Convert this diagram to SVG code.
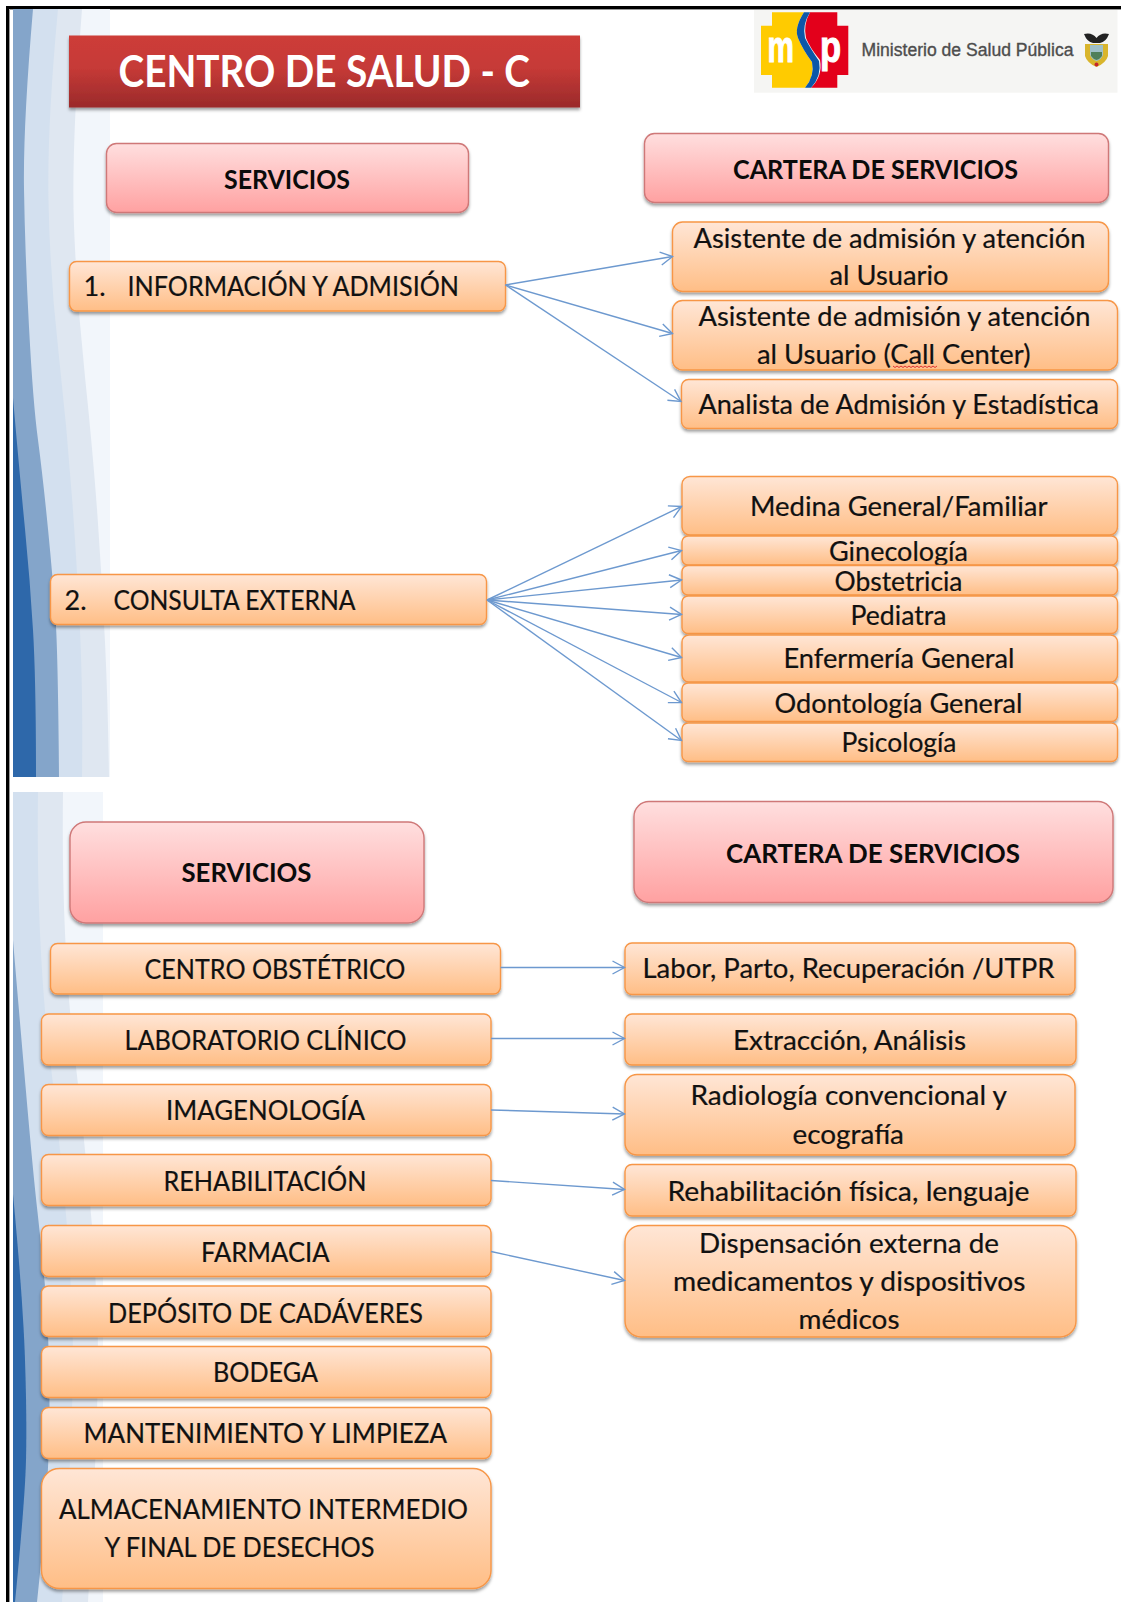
<svg xmlns="http://www.w3.org/2000/svg" width="1121" height="1602" viewBox="0 0 1121 1602">
<style>
.t{font-family:Lato,"Liberation Sans",sans-serif;font-size:27px;fill:#111;stroke:#111;stroke-width:.2}
.b{font-family:Lato,"Liberation Sans",sans-serif;font-weight:700;fill:#0b0b0b}
.o{fill:url(#og);stroke:#f79646;stroke-width:1.4;filter:url(#sh)}
.p{fill:url(#pg);stroke:#cf7878;stroke-width:1.4;filter:url(#sh)}
.c{fill:none;stroke:#6d99cf;stroke-width:1.4;marker-end:url(#ah)}
.d{fill:#2e68aa}.m{fill:#84a5ca}.l{fill:#d3e0ef}.e{fill:#dfe7f1}.v{fill:#f2f6fb}
</style>
<defs>
<linearGradient id="og" x1="0" y1="0" x2="0" y2="1"><stop offset="0" stop-color="#ffe6d6"/><stop offset="1" stop-color="#ffbe86"/></linearGradient>
<linearGradient id="pg" x1="0" y1="0" x2="0" y2="1"><stop offset="0" stop-color="#ffdfdf"/><stop offset="1" stop-color="#ffa1a1"/></linearGradient>
<linearGradient id="rg" x1="0" y1="0" x2="0" y2="1"><stop offset="0" stop-color="#cd3c39"/><stop offset=".45" stop-color="#c63a37"/><stop offset="1" stop-color="#9a2a2a"/></linearGradient>
<filter id="sh" x="-5%" y="-15%" width="110%" height="135%"><feDropShadow dx="0" dy="2.5" stdDeviation="1.6" flood-color="#000" flood-opacity=".38"/></filter>
<marker id="ah" markerUnits="userSpaceOnUse" markerWidth="18" markerHeight="18" refX="15" refY="9" orient="auto"><path d="M3,2.5 L15,9 L3,15.5" fill="none" stroke="#6d99cf" stroke-width="1.4"/></marker>
</defs>
<rect width="1121" height="1602" fill="#fff"/>
<g id="frame">
<path d="M7.5,1602 V7.5 H1121" fill="none" stroke="#000" stroke-width="3"/>
<path d="M9.5,1602 V9.5 H1121" fill="none" stroke="#999" stroke-width="1"/>
</g>
<g id="banda-1">
<rect class="v" x="13" y="9" width="97" height="768"/>
<path class="e" d="M13,9 L82,9 Q71,151 74,226 Q77,302 85,377 Q93,453 97.5,516 Q102,580 105,642 Q108,705 109,777 L13,777Z"/>
<path class="l" d="M13,9 L58,9 Q47,126 48.5,201 Q50,277 58.5,352 Q67,428 72.5,504 Q78,580 80.5,642 Q83,705 82,777 L13,777Z"/>
<path class="m" d="M13,9 L33,9 Q23,126 24,189 Q25,252 29,327 Q33,403 38,440 Q43,478 48,529 Q53,580 55.5,617 Q58,655 59,777 L13,777Z"/>
<path class="d" d="M13,398 Q20,478 25,529 Q30,580 33,630 Q36,680 36,777 L13,777Z"/>
</g>
<g id="banda-2">
<rect class="v" x="13" y="792" width="90" height="810"/>
<path class="e" d="M13,792 L63,792 Q62,867 65,933 Q68,1000 74,1050 Q80,1100 87.5,1175 Q95,1251 97.5,1325 Q100,1400 88,1602 L13,1602Z"/>
<path class="l" d="M13,792 L38,792 Q37,867 40,933 Q43,1000 49,1050 Q55,1100 62.5,1175 Q70,1251 72.5,1328 Q75,1406 62,1602 L13,1602Z"/>
<path class="m" d="M13,940 Q18,1000 25.5,1086 Q33,1173 37.5,1212 Q42,1252 45.5,1292 Q49,1333 49.5,1406 Q50,1480 37,1602 L13,1602Z"/>
<path class="d" d="M13,1194 Q23,1300 25,1360 Q27,1420 26,1460 Q25,1500 15,1602 L13,1602Z"/>
</g>
<g id="titulo">
<rect x="69" y="35.5" width="511" height="72" fill="url(#rg)" filter="url(#sh)"/>
<text class="b" x="118.5" y="86.5" font-size="44" style="fill:#fff" textLength="411.5" lengthAdjust="spacingAndGlyphs">CENTRO DE SALUD - C</text>
</g>
<g id="logo">
<rect x="754" y="10" width="363.5" height="82.7" fill="#f5f5f3"/>
<path d="M772,12.3 H804 Q794,28 798,38 Q803,50 812,62 Q815,76 805,87.7 H772 V75 H761 V25.7 H772Z" fill="#ffcb00"/>
<path d="M810,12.3 H837.3 V25.7 H848.3 V75 H837.3 V87.7 H811 Q823,76 820,60 Q810,48 806,38 Q803,25 810,12.3Z" fill="#e3001b"/>
<path d="M804,12.3 Q794,28 798,38 Q803,50 812,62 Q815,76 805,87.7 H811 Q822,76 819,61 Q810,48 805,38 Q802,25 810,12.3Z" fill="#0d57a8"/>
<g fill="#fff" stroke="#fff" stroke-width=".8" font-family="Liberation Sans,sans-serif" font-weight="700" font-size="32">
<text transform="translate(767.5,62) scale(.93,1.4)">m</text>
<text transform="translate(820,62) scale(1.08,1.4)">p</text>
</g>
<text x="861.5" y="55.5" font-family="Liberation Sans,sans-serif" font-size="17.5" fill="#4d4d4d" stroke="#4d4d4d" stroke-width=".35" textLength="212" lengthAdjust="spacingAndGlyphs">Ministerio de Salud Pública</text>
<path d="M1084,34 Q1092,32 1096.5,38 Q1101,32 1109,34 Q1106,42 1100,43 H1093 Q1087,42 1084,34Z" fill="#222"/>
<path d="M1085,44 H1108 V56 Q1106,63 1096.5,67 Q1087,63 1085,56Z" fill="#d9b52c"/>
<path d="M1090,45 H1103 V55 Q1101,60 1096.5,61 Q1092,60 1090,55Z" fill="#9fc0c8"/>
<path d="M1091,52 H1102 V56 Q1100,59 1096.5,60 Q1093,59 1091,56Z" fill="#4f7f5a"/>
<circle cx="1096.5" cy="64.5" r="2" fill="#c5262c"/>
</g>
<g id="servicios-1"><rect class="p" x="106.5" y="143.5" width="362" height="69" rx="10"/><text class="b" x="224" y="188.5" font-size="26" textLength="126" lengthAdjust="spacingAndGlyphs">SERVICIOS</text></g>
<g id="cartera-1"><rect class="p" x="644.5" y="133.5" width="464" height="69" rx="10"/><text class="b" x="733" y="179" font-size="26" textLength="285" lengthAdjust="spacingAndGlyphs">CARTERA DE SERVICIOS</text></g>
<g id="info"><rect class="o" x="69.5" y="261.5" width="436" height="49.5" rx="7"/><text class="t" x="83.5" y="296">1.</text><text class="t" x="127.5" y="296" textLength="331.5" lengthAdjust="spacingAndGlyphs">INFORMACIÓN Y ADMISIÓN</text></g>
<g id="asistente-1"><rect class="o" x="672.5" y="222" width="436" height="69.5" rx="10"/><text class="t" x="693.5" y="247.5" textLength="392" lengthAdjust="spacingAndGlyphs">Asistente de admisión y atención</text><text class="t" x="829.5" y="284.5" textLength="119" lengthAdjust="spacingAndGlyphs">al Usuario</text></g>
<g id="asistente-2"><rect class="o" x="672.5" y="300.5" width="445" height="69.5" rx="10"/><text class="t" x="698.5" y="326" textLength="392" lengthAdjust="spacingAndGlyphs">Asistente de admisión y atención</text><text class="t" x="757" y="363.5" textLength="273.5" lengthAdjust="spacingAndGlyphs">al Usuario (Call Center)</text><path d="M893,366 l2,1.5 2,-1.5 2,1.5 2,-1.5 2,1.5 2,-1.5 2,1.5 2,-1.5 2,1.5 2,-1.5 2,1.5 2,-1.5 2,1.5 2,-1.5 2,1.5 2,-1.5 2,1.5 2,-1.5 2,1.5 2,-1.5 2,1.5 2,-1.5" fill="none" stroke="#d33" stroke-width="1"/></g>
<g id="analista"><rect class="o" x="681.5" y="379.5" width="436" height="49" rx="7"/><text class="t" x="698.5" y="413.5" textLength="400.5" lengthAdjust="spacingAndGlyphs">Analista de Admisión y Estadística</text></g>
<g id="consulta"><rect class="o" x="50.5" y="574.5" width="436" height="50" rx="7"/><text class="t" x="64.5" y="610">2.</text><text class="t" x="113.5" y="610" textLength="242" lengthAdjust="spacingAndGlyphs">CONSULTA EXTERNA</text></g>
<g id="medina"><rect class="o" x="682" y="476.5" width="435.5" height="58.5" rx="8"/><text class="t" x="750" y="515.5" textLength="297.5" lengthAdjust="spacingAndGlyphs">Medina General/Familiar</text></g>
<g id="ginecologia"><rect class="o" x="682" y="536" width="435.5" height="29" rx="6"/><text class="t" x="829" y="561" textLength="139" lengthAdjust="spacingAndGlyphs">Ginecología</text></g>
<g id="obstetricia"><rect class="o" x="682" y="565.5" width="435.5" height="29.5" rx="6"/><text class="t" x="834.5" y="590.5" textLength="128" lengthAdjust="spacingAndGlyphs">Obstetricia</text></g>
<g id="pediatra"><rect class="o" x="682" y="596" width="435.5" height="37.5" rx="6"/><text class="t" x="850.5" y="624.5" textLength="96" lengthAdjust="spacingAndGlyphs">Pediatra</text></g>
<g id="enfermeria"><rect class="o" x="682" y="635" width="435.5" height="47" rx="7"/><text class="t" x="783.5" y="667.5" textLength="231" lengthAdjust="spacingAndGlyphs">Enfermería General</text></g>
<g id="odontologia"><rect class="o" x="682" y="683" width="435.5" height="38.5" rx="6"/><text class="t" x="774.5" y="712.5" textLength="248" lengthAdjust="spacingAndGlyphs">Odontología General</text></g>
<g id="psicologia"><rect class="o" x="682" y="723" width="435.5" height="38.5" rx="6"/><text class="t" x="841.5" y="751.5" textLength="115" lengthAdjust="spacingAndGlyphs">Psicología</text></g>
<g id="servicios-2"><rect class="p" x="70" y="822" width="354" height="101" rx="16"/><text class="b" x="181.5" y="882" font-size="27" textLength="130" lengthAdjust="spacingAndGlyphs">SERVICIOS</text></g>
<g id="cartera-2"><rect class="p" x="634" y="801.5" width="479" height="101" rx="15"/><text class="b" x="726" y="862.5" font-size="27" textLength="294" lengthAdjust="spacingAndGlyphs">CARTERA DE SERVICIOS</text></g>
<g id="centro-obstetrico"><rect class="o" x="50.5" y="943.5" width="450" height="50.5" rx="7"/><text class="t" x="144.5" y="978.5" textLength="261" lengthAdjust="spacingAndGlyphs">CENTRO OBSTÉTRICO</text></g>
<g id="laboratorio"><rect class="o" x="41.5" y="1014" width="449.5" height="51" rx="7"/><text class="t" x="124.5" y="1049.5" textLength="282" lengthAdjust="spacingAndGlyphs">LABORATORIO CLÍNICO</text></g>
<g id="imagenologia"><rect class="o" x="41.5" y="1084.5" width="449.5" height="51" rx="7"/><text class="t" x="166" y="1120" textLength="199" lengthAdjust="spacingAndGlyphs">IMAGENOLOGÍA</text></g>
<g id="rehabilitacion"><rect class="o" x="41.5" y="1154.5" width="449.5" height="51" rx="7"/><text class="t" x="163.5" y="1190.5" textLength="203" lengthAdjust="spacingAndGlyphs">REHABILITACIÓN</text></g>
<g id="farmacia"><rect class="o" x="41.5" y="1225.5" width="449.5" height="51" rx="7"/><text class="t" x="201" y="1261.5" textLength="128.5" lengthAdjust="spacingAndGlyphs">FARMACIA</text></g>
<g id="deposito"><rect class="o" x="41.5" y="1286" width="449.5" height="50.5" rx="7"/><text class="t" x="108" y="1322.5" textLength="315" lengthAdjust="spacingAndGlyphs">DEPÓSITO DE CADÁVERES</text></g>
<g id="bodega"><rect class="o" x="41.5" y="1346.5" width="449.5" height="51" rx="7"/><text class="t" x="213" y="1381.5" textLength="105" lengthAdjust="spacingAndGlyphs">BODEGA</text></g>
<g id="mantenimiento"><rect class="o" x="41.5" y="1407.5" width="449.5" height="51" rx="7"/><text class="t" x="83.5" y="1442.5" textLength="363.5" lengthAdjust="spacingAndGlyphs">MANTENIMIENTO Y LIMPIEZA</text></g>
<g id="almacenamiento"><rect class="o" x="41.5" y="1468.5" width="449.5" height="120" rx="18"/><text class="t" x="59" y="1519" textLength="409" lengthAdjust="spacingAndGlyphs">ALMACENAMIENTO INTERMEDIO</text><text class="t" x="104.5" y="1557" textLength="270" lengthAdjust="spacingAndGlyphs">Y FINAL DE DESECHOS</text></g>
<g id="labor"><rect class="o" x="625" y="943" width="450" height="51.5" rx="7"/><text class="t" x="642.5" y="978" textLength="412" lengthAdjust="spacingAndGlyphs">Labor, Parto, Recuperación /UTPR</text></g>
<g id="extraccion"><rect class="o" x="625" y="1014" width="451" height="51" rx="7"/><text class="t" x="733" y="1049.5" textLength="233" lengthAdjust="spacingAndGlyphs">Extracción, Análisis</text></g>
<g id="radiologia"><rect class="o" x="625" y="1074.5" width="450" height="80.5" rx="12"/><text class="t" x="690.5" y="1105" textLength="316.5" lengthAdjust="spacingAndGlyphs">Radiología convencional y</text><text class="t" x="792.5" y="1143.5" textLength="111.5" lengthAdjust="spacingAndGlyphs">ecografía</text></g>
<g id="rehab-fisica"><rect class="o" x="625" y="1164.5" width="451" height="51.5" rx="7"/><text class="t" x="667.5" y="1200.5" textLength="362" lengthAdjust="spacingAndGlyphs">Rehabilitación física, lenguaje</text></g>
<g id="dispensacion"><rect class="o" x="625" y="1225.5" width="451" height="111.5" rx="16"/><text class="t" x="699" y="1252.5" textLength="300" lengthAdjust="spacingAndGlyphs">Dispensación externa de</text><text class="t" x="673" y="1291" textLength="352.5" lengthAdjust="spacingAndGlyphs">medicamentos y dispositivos</text><text class="t" x="798.5" y="1328.5" textLength="101" lengthAdjust="spacingAndGlyphs">médicos</text></g>
<g id="conectores">
<path class="c" d="M505.5,285 L672.5,256.5"/>
<path class="c" d="M505.5,285 L672.5,333.5"/>
<path class="c" d="M505.5,285 L681,401.5"/>
<path class="c" d="M487,600 L681.5,506.5"/>
<path class="c" d="M487,600 L681.5,550.5"/>
<path class="c" d="M487,600 L681.5,580"/>
<path class="c" d="M487,600 L681.5,614.5"/>
<path class="c" d="M487,600 L681.5,657.5"/>
<path class="c" d="M487,600 L681.5,702.5"/>
<path class="c" d="M487,600 L681.5,740.5"/>
<path class="c" d="M500.5,967.5 L624.5,967.5"/>
<path class="c" d="M491,1038.5 L624.5,1038.5"/>
<path class="c" d="M491,1110 L624.5,1114"/>
<path class="c" d="M491,1180.5 L624.5,1189.5"/>
<path class="c" d="M491,1251.5 L624.5,1280.5"/>
</g>
</svg>
